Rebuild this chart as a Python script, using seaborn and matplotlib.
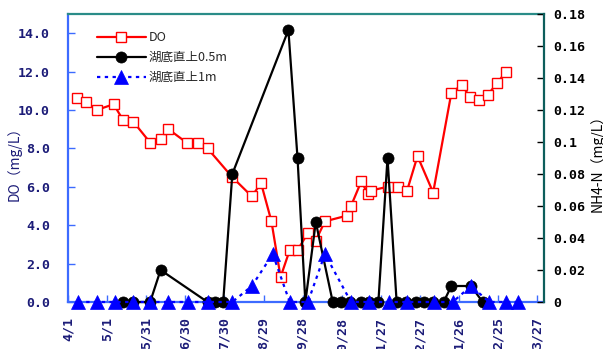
import matplotlib
matplotlib.use("Agg")
import matplotlib.pyplot as plt
import pandas as pd
import seaborn as sns

# Dissolved oxygen (mg/L), left axis
do_dates = [
    "2009-04-08", "2009-04-15", "2009-04-23", "2009-05-06", "2009-05-13", "2009-05-21",
    "2009-06-03", "2009-06-11", "2009-06-17", "2009-07-01", "2009-07-10", "2009-07-17",
    "2009-08-05", "2009-08-20", "2009-08-27", "2009-09-04", "2009-09-11", "2009-09-18",
    "2009-09-24", "2009-10-02", "2009-10-08", "2009-10-15", "2009-11-01", "2009-11-04",
    "2009-11-12", "2009-11-17", "2009-11-19", "2009-12-02", "2009-12-10", "2009-12-17",
    "2009-12-25", "2010-01-06", "2010-01-20", "2010-01-28", "2010-02-03", "2010-02-10",
    "2010-02-17", "2010-02-24", "2010-03-03",
]
do_values = [
    10.6, 10.4, 10.0, 10.3, 9.5, 9.4,
    8.3, 8.5, 9.0, 8.3, 8.3, 8.0,
    6.5, 5.5, 6.2, 4.2, 1.3, 2.7,
    2.7, 3.6, 3.2, 4.2, 4.5, 5.0,
    6.3, 5.6, 5.8, 6.0, 6.0, 5.8,
    7.6, 5.7, 10.9, 11.3, 10.7, 10.5,
    10.8, 11.4, 12.0,
]

# NH4-N (mg/L) 0.5 m above the lake bottom, right axis
nh4_05_dates = [
    "2009-05-13", "2009-05-21", "2009-06-03", "2009-06-11", "2009-07-17", "2009-07-23",
    "2009-07-29", "2009-08-05", "2009-09-17", "2009-09-24", "2009-09-30", "2009-10-08",
    "2009-10-21", "2009-10-27", "2009-11-03", "2009-11-12", "2009-11-18", "2009-11-25",
    "2009-12-02", "2009-12-09", "2009-12-16", "2009-12-24", "2009-12-30", "2010-01-06",
    "2010-01-14", "2010-01-20", "2010-02-04", "2010-02-13",
]
nh4_05_values = [
    0, 0, 0, 0.02, 0, 0,
    0, 0.08, 0.17, 0.09, 0, 0.05,
    0, 0, 0, 0, 0, 0,
    0.09, 0, 0, 0, 0, 0,
    0, 0.01, 0.01, 0,
]

# NH4-N (mg/L) 1 m above the lake bottom, right axis
nh4_1_dates = [
    "2009-04-09", "2009-04-23", "2009-05-07", "2009-05-21", "2009-06-03", "2009-06-17",
    "2009-07-02", "2009-07-17", "2009-08-05", "2009-08-20", "2009-09-05", "2009-09-18",
    "2009-10-02", "2009-10-15", "2009-11-04", "2009-11-18", "2009-12-03", "2009-12-17",
    "2010-01-07", "2010-01-21", "2010-02-04", "2010-02-18", "2010-03-03", "2010-03-12",
]
nh4_1_values = [
    0, 0, 0, 0, 0, 0,
    0, 0, 0, 0.01, 0.03, 0,
    0, 0.03, 0, 0, 0, 0,
    0, 0, 0.01, 0, 0, 0,
]

series_labels = ["DO", "湖底直上0.5m", "湖底直上1m"]
x_tick_labels = ["4/1", "5/1", "5/31", "6/30", "7/30", "8/29", "9/28",
                 "10/28", "11/27", "12/27", "1/26", "2/25", "3/27"]
do_ticks = [0, 2, 4, 6, 8, 10, 12, 14]
nh4_ticks = [0, 0.02, 0.04, 0.06, 0.08, 0.1, 0.12, 0.14, 0.16, 0.18]
nh4_tick_labels = ["0", "0.02", "0.04", "0.06", "0.08", "0.1", "0.12", "0.14", "0.16", "0.18"]

sns.set_style("white")
plt.rcParams["font.family"] = ["Noto Sans CJK JP", "DejaVu Sans"]

NAVY = "#1c1c78"
AXIS_BLUE = "#3d6bff"

fig = plt.figure(figsize=(6.03, 3.49), dpi=100)
ax = fig.add_axes([68 / 603, 1 - 302 / 349, 476 / 603, 288 / 349])
ax2 = ax.twinx()

do_df = pd.DataFrame({"date": pd.to_datetime(do_dates), "value": do_values})
n05_df = pd.DataFrame({"date": pd.to_datetime(nh4_05_dates), "value": nh4_05_values})
n1_df = pd.DataFrame({"date": pd.to_datetime(nh4_1_dates), "value": nh4_1_values})

sns.lineplot(data=do_df, x="date", y="value", ax=ax, estimator=None, legend=False,
             color="#ff0000", lw=1.6, marker="s", markersize=7.5, clip_on=False,
             markerfacecolor="white", markeredgecolor="#ff0000", markeredgewidth=1.0)
sns.lineplot(data=n05_df, x="date", y="value", ax=ax2, estimator=None, legend=False,
             color="black", lw=1.6, marker="o", markersize=8, clip_on=False,
             markerfacecolor="black", markeredgecolor="black", markeredgewidth=0.5)
sns.lineplot(data=n1_df, x="date", y="value", ax=ax2, estimator=None, legend=False,
             color="#0000ff", lw=1.6, linestyle=(0, (1.5, 2.0)), marker="^", markersize=10,
             clip_on=False,
             markerfacecolor="#0000ff", markeredgecolor="#0000ff", markeredgewidth=0.5)

start = pd.Timestamp("2009-04-01")
tick_dates = pd.date_range(start, periods=len(x_tick_labels), freq="30D")
ax.set_xlim(start, start + pd.Timedelta(days=365))
ax.set_xticks(tick_dates)
ax.set_xticklabels(x_tick_labels, rotation=90)

ax.set_ylim(0, 15)
ax.set_yticks(do_ticks)
ax.set_yticklabels([f"{v:.1f}" for v in do_ticks])
ax2.set_ylim(0, 0.18)
ax2.set_yticks(nh4_ticks)
ax2.set_yticklabels(nh4_tick_labels)

ax.set_xlabel("")
ax.set_ylabel("")
ax2.set_xlabel("")
ax2.set_ylabel("")

tick_font = {"family": "DejaVu Sans Mono", "weight": "bold", "size": 9.5}
for lab in ax.get_yticklabels() + ax.get_xticklabels():
    lab.set_fontproperties(tick_font)
for lab in ax2.get_yticklabels():
    lab.set_fontproperties(tick_font)

ax.tick_params(axis="y", direction="in", length=5, width=1, color=AXIS_BLUE,
               labelcolor=NAVY, pad=13, left=True)
ax.tick_params(axis="x", direction="in", length=5, width=1, color=AXIS_BLUE,
               labelcolor=NAVY, pad=11, bottom=True)
ax2.tick_params(axis="y", direction="in", length=5, width=1, color="black",
                labelcolor="black", pad=7, right=True)

for s in ("left", "bottom"):
    ax.spines[s].set_color(AXIS_BLUE)
    ax.spines[s].set_linewidth(1.6)
ax.spines["top"].set_color("#2a8c88")
ax.spines["top"].set_linewidth(1.6)
ax.spines["right"].set_visible(False)
for s in ("left", "bottom", "top"):
    ax2.spines[s].set_visible(False)
ax2.spines["right"].set_color("#0d5e5c")
ax2.spines["right"].set_linewidth(1.6)

fig.text(14 / 603, 1 - 160 / 349, "DO（mg/L）", rotation=90, ha="center", va="center",
         color=NAVY, fontsize=10, family=["Noto Sans CJK JP", "DejaVu Sans"])
fig.text(597 / 603, 1 - 160 / 349, "NH4-N（mg/L）", rotation=90, ha="center", va="center",
         color="black", fontsize=10, family=["Noto Sans CJK JP", "DejaVu Sans"])

handles = [ax.get_lines()[0], ax2.get_lines()[0], ax2.get_lines()[1]]
ax2.legend(handles, series_labels, loc="upper left", bbox_to_anchor=(0.061, 0.94),
           frameon=False, borderaxespad=0, borderpad=0, handlelength=3.9,
           handletextpad=0.25, labelspacing=0.55, fontsize=9)

fig.savefig("out.png", dpi=100)
